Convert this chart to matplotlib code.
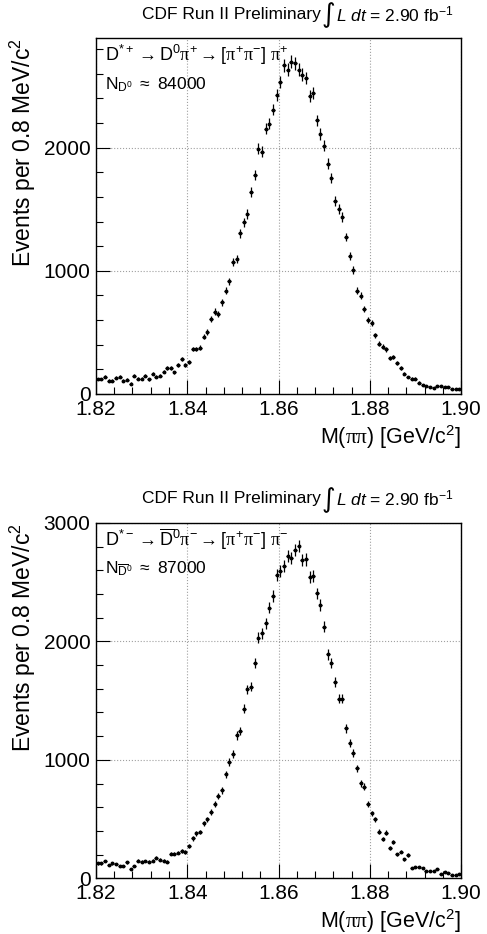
import numpy as np
import matplotlib
matplotlib.use("Agg")
import matplotlib.pyplot as plt
from matplotlib.ticker import MultipleLocator, FixedLocator

plt.rcParams['font.family'] = ['Liberation Sans', 'DejaVu Sans']
plt.rcParams['mathtext.fontset'] = 'custom'
plt.rcParams['mathtext.rm'] = 'Liberation Sans'
plt.rcParams['mathtext.it'] = 'Liberation Sans:italic'
plt.rcParams['mathtext.sf'] = 'Liberation Serif'

# histogram binning, 0.8 MeV bins
mass_lo = 1.82
mass_hi = 1.90
n_bins = 100

# D*+ sample (counts per bin)
counts_plus = [
    122, 122, 141, 108, 108, 133, 141, 108, 117, 84,
    146, 125, 125, 146, 119, 163, 141, 146, 182, 209,
    209, 176, 236, 282, 233, 258, 366, 366, 377, 466,
    501, 612, 669, 650, 745, 837, 913, 1068, 1095, 1306,
    1393, 1461, 1640, 1780, 1992, 1965, 2154, 2195, 2309, 2425,
    2534, 2669, 2634, 2696, 2683, 2634, 2593, 2566, 2417, 2444,
    2220, 2111, 2016, 1870, 1753, 1569, 1501, 1436, 1274, 1122,
    1008, 837, 797, 691, 602, 575, 477, 407, 385, 363,
    290, 298, 255, 209, 163, 138, 125, 125, 92, 71,
    65, 54, 46, 65, 65, 54, 54, 38, 38, 38,
]

# D*- sample (counts per bin)
counts_minus = [
    127, 127, 146, 112, 127, 121, 104, 104, 135, 76,
    104, 149, 140, 146, 140, 149, 174, 155, 149, 140,
    208, 208, 216, 230, 222, 275, 337, 380, 391, 464,
    498, 560, 627, 697, 742, 880, 980, 1052, 1206, 1243,
    1431, 1595, 1617, 1814, 2030, 2067, 2151, 2283, 2382, 2559,
    2595, 2635, 2722, 2705, 2770, 2804, 2685, 2691, 2545, 2550,
    2404, 2306, 2123, 1890, 1814, 1659, 1515, 1515, 1265, 1139,
    1055, 928, 801, 773, 627, 548, 498, 393, 329, 385,
    258, 309, 202, 225, 163, 197, 90, 98, 93, 87,
    64, 59, 59, 76, 36, 56, 47, 25, 28, 34,
]

x_ticklabels = ["1.82", "1.84", "1.86", "1.88", "1.90"]
title_left = "CDF Run II Preliminary"
title_int = "\u222b"
title_right = r"$L\ dt$ = 2.90 fb$^{-1}$"
ylabel = r"Events per 0.8 MeV/c$^{2}$"
xlabel = r"M($\mathsf{\pi\pi}$) [GeV/c$^{2}$]"

decay_plus = (r"D$^{*+}\rightarrow$D$^{0}\mathsf{\pi}^{+}\rightarrow$"
              r"[$\mathsf{\pi}^{+}\mathsf{\pi}^{-}$] $\mathsf{\pi}^{+}$")
decay_minus = (r"D$^{*-}\rightarrow\overline{\mathrm{D}}^{0}\mathsf{\pi}^{-}\rightarrow$"
               r"[$\mathsf{\pi}^{+}\mathsf{\pi}^{-}$] $\mathsf{\pi}^{-}$")
yield_plus = r"N$_{\mathrm{D}^{0}}$ $\approx$ 84000"
yield_minus = r"N$_{\overline{\mathrm{D}}^{0}}$ $\approx$ 87000"

edges = np.linspace(mass_lo, mass_hi, n_bins + 1)
centers = 0.5 * (edges[:-1] + edges[1:])
half_width = 0.5 * (edges[1] - edges[0])

fig = plt.figure(figsize=(4.87, 9.34), dpi=100)

panels = [
    (counts_plus, decay_plus, yield_plus, 0.5782, 2886),
    (counts_minus, decay_minus, yield_minus, 0.0596, 3000),
]

for counts, decay, n_text, bottom, ymax in panels:
    counts = np.array(counts, dtype=float)
    ax = fig.add_axes([96 / 487, bottom, 365 / 487, 355.5 / 934])
    ax.errorbar(centers, counts, yerr=np.sqrt(counts), xerr=half_width,
                fmt='o', color='black', markersize=1.8, elinewidth=0.9,
                capsize=0)
    ax.set_xlim(mass_lo, mass_hi)
    ax.set_ylim(0, ymax)

    ax.xaxis.set_major_locator(FixedLocator([1.82, 1.84, 1.86, 1.88, 1.90]))
    ax.set_xticklabels(x_ticklabels)
    ax.xaxis.set_minor_locator(MultipleLocator(0.004))
    ax.yaxis.set_major_locator(MultipleLocator(1000))
    ax.yaxis.set_minor_locator(MultipleLocator(200))
    ax.tick_params(which='both', direction='in', top=False, right=False,
                   labelsize=15, width=0.8, color='black')
    ax.tick_params(which='major', length=10, pad=4)
    ax.tick_params(which='minor', length=5)

    ax.grid(True, which='major', linestyle=':', color='#a0a0a0', linewidth=0.8)
    for s in ax.spines.values():
        s.set_linewidth(1.0)

    ax.set_ylabel(ylabel, fontsize=16.5, loc='top', labelpad=4)
    ax.set_xlabel(xlabel, fontsize=15.5, loc='right', labelpad=3)

    ax.text(0.025, 0.955, decay, transform=ax.transAxes, fontsize=13,
            ha='left', va='center')
    ax.text(0.025, 0.87, n_text, transform=ax.transAxes, fontsize=12.5,
            ha='left', va='center')

    # title line, with a tall integral sign in the middle
    ty = bottom + 355.5 / 934 + 24 / 934
    fig.text(321 / 487, ty, title_left, fontsize=12.5, ha='right', va='center')
    fig.text(328 / 487, ty - 1 / 934, title_int, fontsize=19, ha='center',
             va='center', family=['DejaVu Sans'])
    fig.text(336 / 487, ty, title_right, fontsize=12.5, ha='left', va='center')

fig.savefig("out.png", dpi=100)
